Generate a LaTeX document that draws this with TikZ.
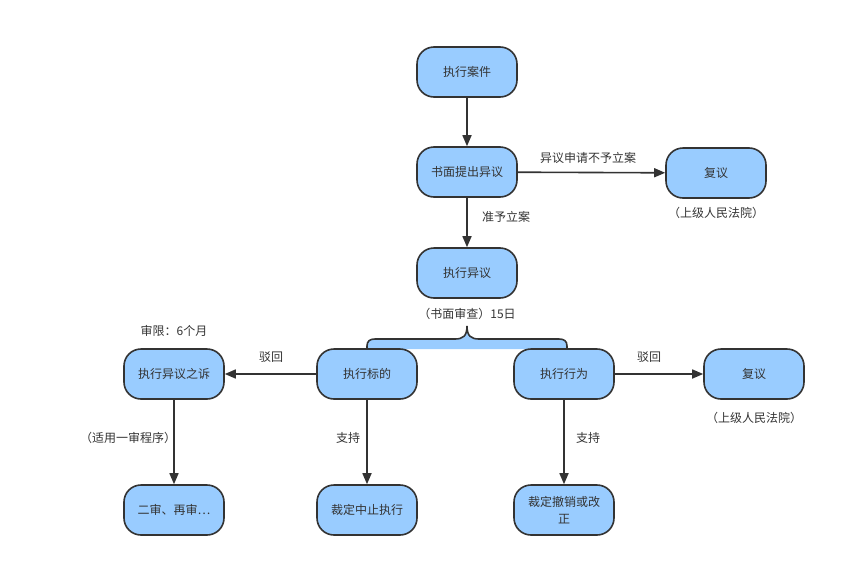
\documentclass[tikz,border=0pt]{standalone}
\usepackage{fontspec}
\setmainfont{Noto Sans CJK SC}
\usetikzlibrary{arrows.meta}
\definecolor{nodefill}{HTML}{99CCFF}
\definecolor{edge}{HTML}{333333}
\definecolor{txt}{HTML}{333333}
\tikzset{
  box/.style={draw=edge, line width=1.6pt, fill=nodefill, rounded corners=17pt,
    minimum width=100pt, minimum height=50pt, inner sep=2pt, align=center,
    font=\fontsize{12}{17}\selectfont, text=txt},
  conn/.style={draw=edge, line width=1.6pt, -{Triangle[length=11pt,width=9pt]}},
  lab/.style={font=\fontsize{12}{15}\selectfont, text=txt, inner sep=1pt}
}
\begin{document}
\begin{tikzpicture}[x=1pt,y=-1pt]
\useasboundingbox (0,0) rectangle (866,570);
% brace
\fill[nodefill] (367,349) -- (367,346) .. controls (367,341) and (370,339) .. (375,339) -- (455,339) .. controls (463,339) and (467,336) .. (467,326) .. controls (467,336) and (471,339) .. (479,339) -- (559,339) .. controls (564,339) and (567,341) .. (567,346) -- (567,349) -- cycle;
\draw[edge, line width=1.6pt] (367,349) -- (367,346) .. controls (367,341) and (370,339) .. (375,339) -- (455,339) .. controls (463,339) and (467,336) .. (467,326) .. controls (467,336) and (471,339) .. (479,339) -- (559,339) .. controls (564,339) and (567,341) .. (567,346) -- (567,349);
\node[box] (case) at (467,72) {执行案件};
\node[box] (obj) at (467,172) {书面提出异议};
\node[box] (rev1) at (716,173) {复议};
\node[box] (yiyi) at (467,273) {执行异议};
\node[box] (su) at (174,374) {执行异议之诉};
\node[box] (bd) at (367,374) {执行标的};
\node[box] (xw) at (564,374) {执行行为};
\node[box] (rev2) at (754,374) {复议};
\node[box] (er) at (174,510) {二审、再审…};
\node[box] (zz) at (367,510) {裁定中止执行};
\node[box] (cx) at (564,510) {裁定撤销或改\\正};
\draw[conn] (case) -- (obj);
\draw[conn] (obj) -- (rev1);
\draw[conn] (obj) -- (yiyi);
\draw[conn] (bd) -- (su);
\draw[conn] (xw) -- (rev2);
\draw[conn] (su) -- (er);
\draw[conn] (bd) -- (zz);
\draw[conn] (xw) -- (cx);
\node[lab] (l1) at (588,158) {异议申请不予立案};
\node[lab] (l2) at (716,213) {（上级人民法院）};
\node[lab] (l3) at (506,217) {准予立案};
\node[lab] (l4) at (467,314) {（书面审查）15日};
\node[lab] (l5) at (174,331) {审限：6个月};
\node[lab] (l6) at (271,357) {驳回};
\node[lab] (l7) at (649,357) {驳回};
\node[lab] (l8) at (128,438) {（适用一审程序）};
\node[lab] (l9) at (348,438) {支持};
\node[lab] (l10) at (588,438) {支持};
\node[lab] (l11) at (754,418) {（上级人民法院）};
\end{tikzpicture}
\end{document}
